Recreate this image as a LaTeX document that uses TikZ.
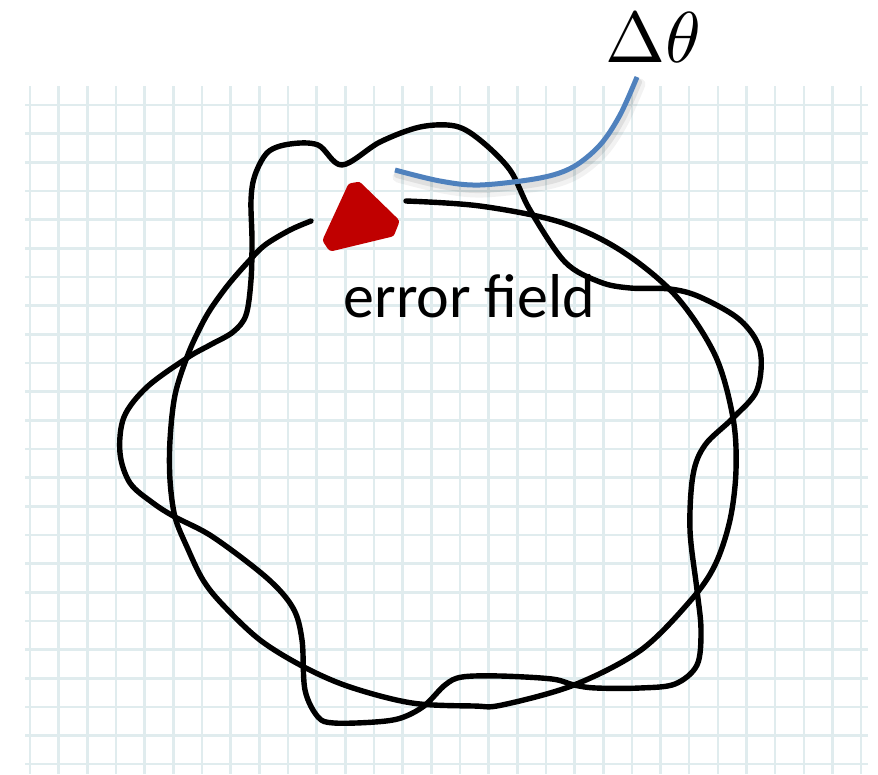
\documentclass[tikz,border=0pt]{standalone}
\usepackage{fontspec}
\newfontfamily\carlito{Carlito}
\definecolor{gridc}{RGB}{224,236,238}
\definecolor{bluec}{RGB}{79,129,189}
\definecolor{redc}{RGB}{192,0,0}
\begin{document}
\begin{tikzpicture}[x=1pt,y=-1pt,
  gridline/.style={draw=gridc,line width=2.6pt},
  curveline/.style={draw=black,line width=5.4pt,line cap=round,line join=round},
  blueline/.style={draw=bluec,line width=5pt,line cap=butt},
  shadowline/.style={draw=black,line cap=round}]
\useasboundingbox (0,0) rectangle (878,774);
\fill[white] (0,0) rectangle (878,774);
% grid
\foreach \i in {0,...,29} \draw[gridline] ({30+28.66*\i},86) -- ({30+28.66*\i},774);
\foreach \j in {0,...,23} \draw[gridline] (25,{105+28.66*\j}) -- (868,{105+28.66*\j});
% wiggly (perturbed) curve
\draw[curveline] plot[smooth cycle,tension=0.55] coordinates {
 (251,200) (252,240) (251,280) (246,315) (233,332) (210,345) (187,358) (147,387)
 (124,417) (120,453) (130,483) (153,503) (175,517) (213,537) (267,578) (293,608)
 (302,640) (305,690) (318,717) (334,723) (375,722) (401,718) (424,706) (445,685)
 (462,677) (500,676) (552,679) (574,685) (596,688) (640,688) (675,684) (697,665)
 (701,630) (697,590) (690,530) (693,475) (705,445) (733,418) (757,390) (760,350)
 (740,320) (700,297) (670,289) (630,288) (600,282) (565,262) (530,210) (510,170)
 (480,140) (455,126) (420,127) (380,142) (342,165) (318,145) (290,144) (268,152)
 (255,175)};
% unperturbed circle with a gap at the top
\draw[curveline] plot[smooth,tension=0.55] coordinates {
 (311,221) (290,230) (265,245) (248,262) (228,285) (210,310) (198,332) (187,357)
 (175,395) (170,440) (170,480) (175,517) (187,547) (203,580) (223,605) (260,640)
 (304,667) (350,687) (412,703) (474,706) (502,705) (574,685) (641,650) (691,600)
 (715,565) (730,520) (736,470) (733,418) (715,355) (675,295) (620,250) (560,222)
 (480,206) (406,201)};
% error field blob
\filldraw[fill=redc,draw=redc,line width=10pt,line join=round]
  (352,188) -- (358,187) -- (394,222) -- (390,232) -- (332,246) -- (328,240) -- cycle;
% blue pointer with soft shadow
\draw[shadowline,opacity=0.05,line width=11pt] plot[smooth,tension=0.55] coordinates {
 (398,177) (443,188) (483,192) (543,185) (576,174) (603,152) (623,122) (640,84)};
\draw[shadowline,opacity=0.08,line width=6pt] plot[smooth,tension=0.55] coordinates {
 (397,175) (442,186) (482,190) (542,183) (575,172) (602,150) (622,120) (639,82)};
\draw[blueline] plot[smooth,tension=0.55] coordinates {
 (395,170) (440,181) (480,185) (540,178) (573,167) (600,145) (620,115) (637,77)};
% labels
\node[inner sep=0pt,scale=7.2] (dtheta) at (653,37) {$\Delta\theta$};
\node[inner sep=0pt,anchor=base] (efield) at (469.5,317) {\fontsize{62}{70}\selectfont\carlito error field};
\end{tikzpicture}
\end{document}
